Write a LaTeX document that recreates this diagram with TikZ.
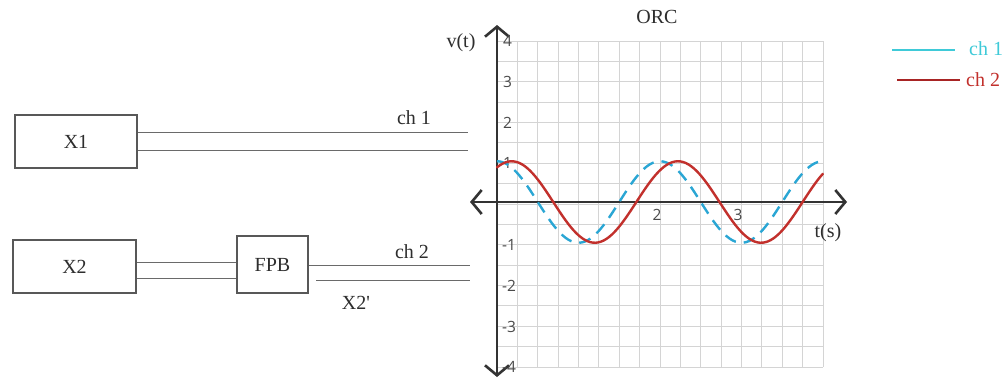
\documentclass[tikz,border=0pt]{standalone}
\usepackage{fontspec}
\setmainfont{Liberation Serif}
\newfontfamily\numfont{Open Sans}
\usetikzlibrary{arrows.meta}
\definecolor{boxgray}{HTML}{585858}
\definecolor{linegray}{HTML}{6A6A6A}
\definecolor{textgray}{HTML}{2E2E2E}
\definecolor{gridc}{HTML}{D4D4D4}
\definecolor{axisc}{HTML}{333333}
\definecolor{numc}{HTML}{4A4A4A}
\definecolor{bluec}{HTML}{2AA6D4}
\definecolor{redc}{HTML}{C2302C}
\definecolor{legcyan}{HTML}{3FCAD8}
\definecolor{legred}{HTML}{A82424}
\begin{document}
\begin{tikzpicture}[x=1pt,y=-1pt,
  blk/.style={draw=boxgray, line width=2pt, inner sep=0pt, text=textgray,
    font=\fontsize{20}{23}\selectfont},
  wire/.style={draw=linegray, line width=1pt},
  lbl/.style={text=textgray, font=\fontsize{20}{23}\selectfont, inner sep=0pt},
  num/.style={text=numc, font=\numfont\fontsize{15.5}{17}\selectfont, inner sep=0pt},
  axis/.style={draw=axisc, line width=2.6pt, {Straight Barb[length=10pt,width=24pt,line width=2.6pt]}-{Straight Barb[length=10pt,width=24pt,line width=2.6pt]}},
  gridline/.style={draw=gridc, line width=1pt},
  curve/.style={line width=2.4pt, line cap=round}
]
\useasboundingbox[fill=white] (0,0) rectangle (1007,378);

% blocks
\node[blk, minimum width=122pt, minimum height=53pt] (X1) at (76,141.5) {X1};
\node[blk, minimum width=123pt, minimum height=53pt] (X2) at (74.5,266.5) {X2};
\node[blk, minimum width=71pt, minimum height=57pt] (FPB) at (272.5,264.5) {FPB};

% channel 1 wires
\coordinate (c1a) at (468,132);
\coordinate (c1b) at (468,150);
\draw[wire] (X1.east |- c1a) -- (c1a);
\draw[wire] (X1.east |- c1b) -- (c1b);
\node[lbl] (ch1) at (414,118) {ch 1};

% X2 -> FPB wires
\coordinate (w2a) at (0,262);
\coordinate (w2b) at (0,278);
\draw[wire] (X2.east |- w2a) -- (FPB.west |- w2a);
\draw[wire] (X2.east |- w2b) -- (FPB.west |- w2b);

% channel 2 wires
\coordinate (c2a) at (470,265);
\coordinate (c2b) at (470,280);
\draw[wire] (FPB.east |- c2a) -- (c2a);
\draw[wire] ([xshift=7pt]FPB.east |- c2b) -- (c2b);
\node[lbl] (ch2) at (412,252) {ch 2};
\node[lbl] (x2p) at (356,303) {X2\textquotesingle};

% grid
\foreach \i in {0,...,16} {
  \draw[gridline] ({497+20.375*\i},41) -- ({497+20.375*\i},367);
  \draw[gridline] (497,{41+20.375*\i}) -- (823,{41+20.375*\i});
}

% axes
\coordinate (xl) at (470,202);
\coordinate (xr) at (847,202);
\coordinate (yt) at (497,25);
\coordinate (yb) at (497,377);
\draw[axis] (xl) -- (xr);
\draw[axis] (yt) -- (yb);

% axis numbers
\node[num, anchor=west] (n4) at (503,41) {4};
\node[num, anchor=west] (n3) at (503,82) {3};
\node[num, anchor=west] (n2) at (503,123) {2};
\node[num, anchor=west] (n1) at (503,163) {1};
\node[num, anchor=west] (nm1) at (502,245) {-1};
\node[num, anchor=west] (nm2) at (502,286) {-2};
\node[num, anchor=west] (nm3) at (502,327) {-3};
\node[num, anchor=west] (nm4) at (502,367) {-4};
\node[num] (t2) at (657,215) {2};
\node[num] (t3) at (738,215) {3};

\node[lbl] (vt) at (461,43) {v(t)};
\node[lbl] (ts) at (828,233) {t(s)};
\node[lbl] (orc) at (657,17) {ORC};

% curves
\draw[curve, draw=bluec, dash pattern=on 12pt off 8pt, line cap=butt]
  plot[domain=0:4, samples=120] ({497+81.5*\x}, {202-40.75*cos(deg(pi*\x))});
\draw[curve, draw=redc]
  plot[domain=0:4, samples=120] ({497+81.5*\x}, {202-40.75*cos(deg(pi*(\x-0.18)/1.02))});

% legend
\coordinate (l1a) at (892,50);
\coordinate (l1b) at (955,50);
\coordinate (l2a) at (897,80);
\coordinate (l2b) at (960,80);
\draw[draw=legcyan, line width=2.6pt] (l1a) -- (l1b);
\draw[draw=legred, line width=2.6pt] (l2a) -- (l2b);
\node[lbl, text=legcyan, anchor=west] (lg1) at (969,49) {ch 1};
\node[lbl, text=redc, anchor=west] (lg2) at (966,80) {ch 2};
\end{tikzpicture}
\end{document}
